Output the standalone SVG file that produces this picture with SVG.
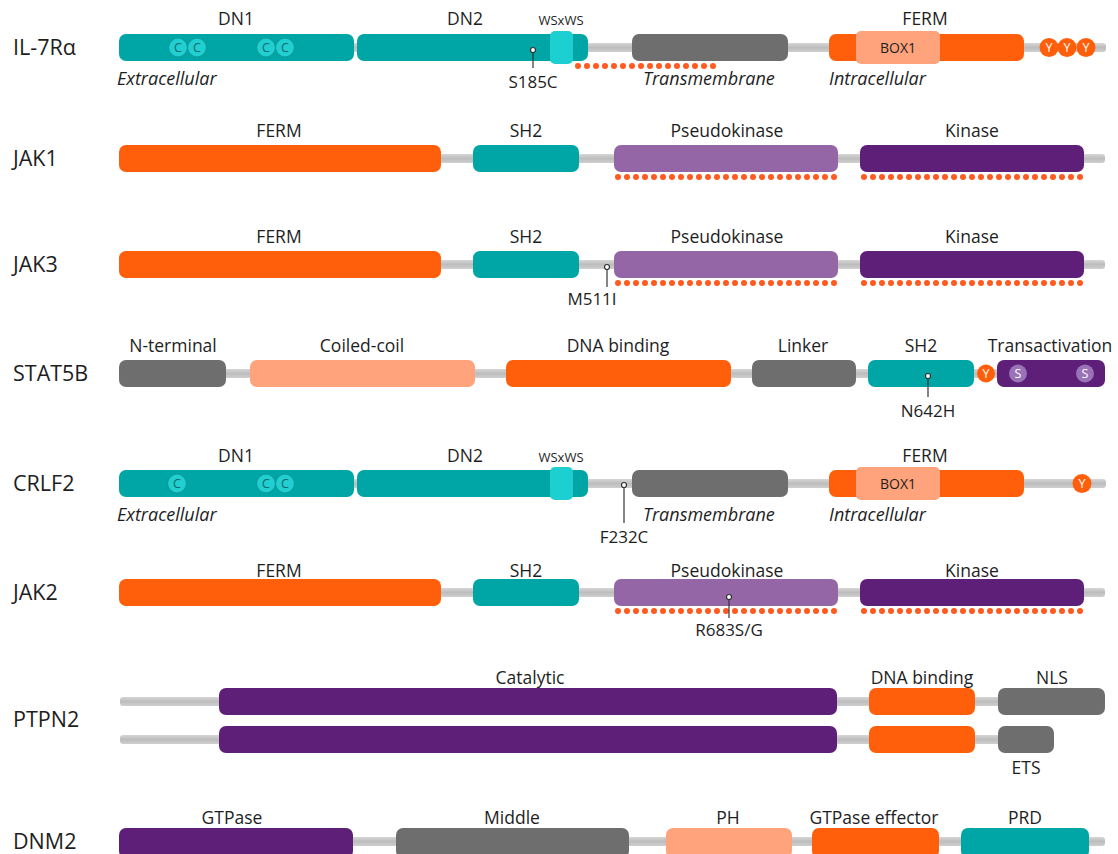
<svg xmlns="http://www.w3.org/2000/svg" width="1118" height="854" viewBox="0 0 1118 854">
<defs>
<linearGradient id="bb" x1="0" y1="0" x2="0" y2="1">
<stop offset="0" stop-color="#d6d6d6"/>
<stop offset="0.5" stop-color="#bdbdbd"/>
<stop offset="1" stop-color="#cfcfcf"/>
</linearGradient>
</defs>
<style>
text{font-family:"Open Sans","Liberation Sans",sans-serif;fill:#1e1e1e}
.row{font-size:21.5px}
.lab{font-size:17.5px;text-anchor:middle}
.it{font-size:18px;font-style:italic}
.mut{font-size:17px;text-anchor:middle}
.sm{font-size:13px;text-anchor:middle}
.bb{fill:url(#bb)}
.teal{fill:#00a6a6}
.cyan{fill:#1ccfd0}
.orange{fill:#ff5f0a}
.gray{fill:#6e6e6e}
.lpur{fill:#9466a6}
.dpur{fill:#5e1f78}
.salmon{fill:#ffa37c}
.cc{fill:#22cfd0;stroke:#0c9c9e;stroke-width:1.2}
.cct{font-size:12.5px;text-anchor:middle;fill:#08686a}
.yc{fill:#ff5f0a}
.yt{font-size:12.5px;text-anchor:middle;fill:#fff}
.sc{fill:#9a72b8}
.dots{stroke:#ff5a1f;stroke-width:6;stroke-linecap:round;stroke-dasharray:0 9;fill:none}
.pin{stroke:#333;stroke-width:1.2;fill:none}
.pd{fill:#fff;stroke:#333;stroke-width:1.2}
</style>

<g id="il7ra">
<text class="row" x="13" y="55">IL-7Rα</text>
<rect class="bb" x="120" y="43" width="986" height="9" rx="3"/>
<rect class="teal" x="119" y="34" width="235" height="27" rx="7"/>
<rect class="teal" x="357" y="34" width="231" height="27" rx="7"/>
<rect class="cyan" x="550" y="31" width="23" height="33" rx="5"/>
<circle class="cc" cx="178" cy="47.5" r="9.5"/><text class="cct" x="178" y="52">C</text>
<circle class="cc" cx="197" cy="47.5" r="9.5"/><text class="cct" x="197" y="52">C</text>
<circle class="cc" cx="266" cy="47.5" r="9.5"/><text class="cct" x="266" y="52">C</text>
<circle class="cc" cx="285" cy="47.5" r="9.5"/><text class="cct" x="285" y="52">C</text>
<rect class="gray" x="632" y="34" width="156" height="27" rx="7"/>
<rect class="orange" x="829" y="34" width="195" height="27" rx="7"/>
<rect class="salmon" x="856" y="31" width="84" height="33" rx="5"/>
<text class="sm" x="898" y="52.5" style="font-size:14px">BOX1</text>
<circle class="yc" cx="1049" cy="47.5" r="9.5"/><text class="yt" x="1049" y="52">Y</text>
<circle class="yc" cx="1067" cy="47.5" r="9.5"/><text class="yt" x="1067" y="52">Y</text>
<circle class="yc" cx="1086" cy="47.5" r="9.5"/><text class="yt" x="1086" y="52">Y</text>
<line class="dots" x1="578" y1="66" x2="714" y2="66"/>
<text class="lab" x="236" y="25">DN1</text>
<text class="lab" x="465" y="25">DN2</text>
<text class="sm" x="561" y="25">WSxWS</text>
<text class="lab" x="925" y="25">FERM</text>
<text class="it" x="117" y="85">Extracellular</text>
<text class="it" x="643" y="85">Transmembrane</text>
<text class="it" x="829" y="85">Intracellular</text>
<text class="mut" x="533" y="88">S185C</text>
</g>

<g id="jak1">
<text class="row" x="13" y="166">JAK1</text>
<rect class="bb" x="120" y="154" width="985" height="9" rx="3"/>
<rect class="orange" x="119" y="145" width="322" height="27" rx="7"/>
<rect class="teal" x="473" y="145" width="106" height="27" rx="7"/>
<rect class="lpur" x="614" y="145" width="224" height="27" rx="7"/>
<rect class="dpur" x="860" y="145" width="224" height="27" rx="7"/>
<line class="dots" x1="618" y1="177" x2="835" y2="177"/>
<line class="dots" x1="864" y1="177" x2="1081" y2="177"/>
<text class="lab" x="279" y="137">FERM</text>
<text class="lab" x="526" y="137">SH2</text>
<text class="lab" x="727" y="137">Pseudokinase</text>
<text class="lab" x="972" y="137">Kinase</text>
</g>

<g id="jak3">
<text class="row" x="13" y="272">JAK3</text>
<rect class="bb" x="120" y="260" width="985" height="9" rx="3"/>
<rect class="orange" x="119" y="251" width="322" height="27" rx="7"/>
<rect class="teal" x="473" y="251" width="106" height="27" rx="7"/>
<rect class="lpur" x="614" y="251" width="224" height="27" rx="7"/>
<rect class="dpur" x="860" y="251" width="224" height="27" rx="7"/>
<line class="dots" x1="618" y1="283" x2="835" y2="283"/>
<line class="dots" x1="864" y1="283" x2="1081" y2="283"/>
<text class="lab" x="279" y="243">FERM</text>
<text class="lab" x="526" y="243">SH2</text>
<text class="lab" x="727" y="243">Pseudokinase</text>
<text class="lab" x="972" y="243">Kinase</text>
<text class="mut" x="592" y="305">M511I</text>
</g>

<g id="stat5b">
<text class="row" x="13" y="381">STAT5B</text>
<rect class="bb" x="120" y="369" width="985" height="9" rx="3"/>
<rect class="gray" x="119" y="360" width="107" height="27" rx="7"/>
<rect class="salmon" x="250" y="360" width="225" height="27" rx="7"/>
<rect class="orange" x="506" y="360" width="225" height="27" rx="7"/>
<rect class="gray" x="752" y="360" width="104" height="27" rx="7"/>
<rect class="teal" x="868" y="360" width="106" height="27" rx="7"/>
<circle class="yc" cx="986" cy="373.5" r="9"/><text class="yt" x="986" y="378">Y</text>
<rect class="dpur" x="997" y="360" width="108" height="27" rx="7"/>
<circle class="sc" cx="1018" cy="373.5" r="9"/><text class="yt" x="1018" y="378">S</text>
<circle class="sc" cx="1085" cy="373.5" r="9"/><text class="yt" x="1085" y="378">S</text>
<text class="lab" x="173" y="352">N-terminal</text>
<text class="lab" x="362" y="352">Coiled-coil</text>
<text class="lab" x="618" y="352">DNA binding</text>
<text class="lab" x="803" y="352">Linker</text>
<text class="lab" x="921" y="352">SH2</text>
<text class="lab" x="1050" y="352">Transactivation</text>
<text class="mut" x="928" y="417">N642H</text>
</g>

<g id="crlf2">
<text class="row" x="13" y="491">CRLF2</text>
<rect class="bb" x="120" y="479" width="986" height="9" rx="3"/>
<rect class="teal" x="119" y="470" width="235" height="27" rx="7"/>
<rect class="teal" x="357" y="470" width="231" height="27" rx="7"/>
<rect class="cyan" x="550" y="467" width="23" height="33" rx="5"/>
<circle class="cc" cx="177" cy="483.5" r="9.5"/><text class="cct" x="177" y="488">C</text>
<circle class="cc" cx="266" cy="483.5" r="9.5"/><text class="cct" x="266" y="488">C</text>
<circle class="cc" cx="285" cy="483.5" r="9.5"/><text class="cct" x="285" y="488">C</text>
<rect class="gray" x="632" y="470" width="156" height="27" rx="7"/>
<rect class="orange" x="829" y="470" width="195" height="27" rx="7"/>
<rect class="salmon" x="856" y="467" width="84" height="33" rx="5"/>
<text class="sm" x="898" y="488.5" style="font-size:14px">BOX1</text>
<circle class="yc" cx="1082" cy="483.5" r="9.5"/><text class="yt" x="1082" y="488">Y</text>
<text class="lab" x="236" y="462">DN1</text>
<text class="lab" x="465" y="462">DN2</text>
<text class="sm" x="561" y="462">WSxWS</text>
<text class="lab" x="925" y="462">FERM</text>
<text class="it" x="117" y="521">Extracellular</text>
<text class="it" x="643" y="521">Transmembrane</text>
<text class="it" x="829" y="521">Intracellular</text>
<text class="mut" x="624" y="543">F232C</text>
</g>

<g id="jak2">
<text class="row" x="13" y="600">JAK2</text>
<rect class="bb" x="120" y="588" width="985" height="9" rx="3"/>
<rect class="orange" x="119" y="579" width="322" height="27" rx="7"/>
<rect class="teal" x="473" y="579" width="106" height="27" rx="7"/>
<rect class="lpur" x="614" y="579" width="224" height="27" rx="7"/>
<rect class="dpur" x="860" y="579" width="224" height="27" rx="7"/>
<line class="dots" x1="618" y1="611" x2="835" y2="611"/>
<line class="dots" x1="864" y1="611" x2="1081" y2="611"/>
<text class="lab" x="279" y="577">FERM</text>
<text class="lab" x="526" y="577">SH2</text>
<text class="lab" x="727" y="577">Pseudokinase</text>
<text class="lab" x="972" y="577">Kinase</text>
<text class="mut" x="729" y="636">R683S/G</text>
</g>

<g id="ptpn2">
<text class="row" x="13" y="727">PTPN2</text>
<rect class="bb" x="120" y="697" width="985" height="9" rx="3"/>
<rect class="dpur" x="219" y="688" width="618" height="27" rx="7"/>
<rect class="orange" x="869" y="688" width="106" height="27" rx="7"/>
<rect class="gray" x="998" y="688" width="107" height="27" rx="7"/>
<rect class="bb" x="120" y="735" width="930" height="9" rx="3"/>
<rect class="dpur" x="219" y="726" width="618" height="27" rx="7"/>
<rect class="orange" x="869" y="726" width="106" height="27" rx="7"/>
<rect class="gray" x="998" y="726" width="56" height="27" rx="7"/>
<text class="lab" x="530" y="684">Catalytic</text>
<text class="lab" x="922" y="684">DNA binding</text>
<text class="lab" x="1052" y="684">NLS</text>
<text class="lab" x="1026" y="774">ETS</text>
</g>

<g id="dnm2">
<text class="row" x="13" y="849">DNM2</text>
<rect class="bb" x="120" y="837" width="985" height="9" rx="3"/>
<rect class="dpur" x="119" y="828" width="234" height="30" rx="7"/>
<rect class="gray" x="396" y="828" width="233" height="30" rx="7"/>
<rect class="salmon" x="666" y="828" width="126" height="30" rx="7"/>
<rect class="orange" x="812" y="828" width="127" height="30" rx="7"/>
<rect class="teal" x="961" y="828" width="128" height="30" rx="7"/>
<text class="lab" x="232" y="824">GTPase</text>
<text class="lab" x="512" y="824">Middle</text>
<text class="lab" x="728" y="824">PH</text>
<text class="lab" x="874" y="824">GTPase effector</text>
<text class="lab" x="1025" y="824">PRD</text>
</g>

<g id="connectors">
<path class="pin" d="M533 50V68"/><circle class="pd" cx="533" cy="50" r="2.5"/>
<path class="pin" d="M607 267V287"/><circle class="pd" cx="607" cy="267" r="2.5"/>
<path class="pin" d="M928 376V397"/><circle class="pd" cx="928" cy="376" r="2.5"/>
<path class="pin" d="M624 485V523"/><circle class="pd" cx="624" cy="485" r="2.5"/>
<path class="pin" d="M729 597V618"/><circle class="pd" cx="729" cy="597" r="2.5"/>
</g>
</svg>
